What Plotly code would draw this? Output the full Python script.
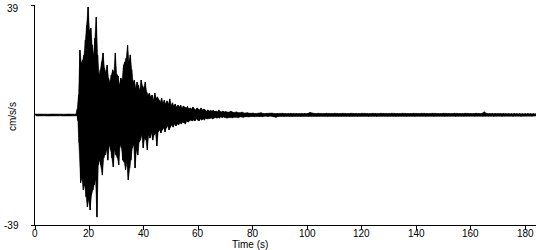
import numpy as np
import plotly.graph_objects as go

# ---- data (cm/s/s) ----
# pre-event noise, peaks every 1 s from t=0
pre_up = [0.35, 0.3, 0.35, 0.3, 0.35, 0.3, 0.35, 0.3, 0.35, 0.3, 0.35, 0.3, 0.35, 0.3, 0.35, 0.3]
pre_lo = [-0.35, -0.3, -0.35, -0.3, -0.35, -0.3, -0.35, -0.3, -0.35, -0.3, -0.35, -0.3, -0.35, -0.3, -0.35, -0.3]
pre_t0, pre_dt = 0.0, 1.0

# strong-motion part, peaks every 0.5 s from t=15.5
main_up = [2.0, 7.1, 23.0, 18.4, 19.5, 21.3, 26.6, 31.9, 38.3, 30.0,
           30.8, 24.8, 21.3, 27.3, 34.7, 21.3, 14.2, 16.0, 18.8, 22.0,
           16.7, 15.2, 17.7, 13.1, 11.7, 14.2, 16.0, 15.2, 22.0, 14.5,
           13.8, 10.6, 13.1, 12.4, 17.7, 18.8, 20.2, 24.8, 18.8, 21.3,
           16.0, 11.7, 12.4, 9.6, 11.7, 10.6, 8.9, 12.4, 10.3, 9.6,
           11.7, 8.2, 7.1, 7.8, 6.4, 7.1, 5.3, 7.8, 6.0, 6.4,
           5.3, 4.6, 6.0, 4.3, 5.3, 3.9, 5.0, 3.9, 5.7, 3.5,
           4.3, 3.2, 3.9, 2.8, 3.5, 2.8, 3.5, 2.5, 3.2, 2.8,
           2.5, 3.0, 2.1, 2.5, 2.1, 2.8, 2.1, 1.8, 2.5, 2.1,
           1.8, 2.5, 1.8, 2.1, 1.8, 1.4, 1.8, 1.4, 1.6, 1.4,
           1.6, 1.2, 1.4, 1.1, 1.8, 1.2, 1.1, 1.4, 1.1]
main_lo = [-2.0, -9.9, -24.0, -22.3, -26.6, -24.8, -29.0, -32.6, -30.0, -33.7,
           -28.4, -26.6, -24.8, -23.0, -36.2, -17.7, -16.0, -17.7, -21.3, -15.2,
           -14.2, -12.4, -16.0, -10.6, -12.4, -15.2, -18.4, -12.4, -14.2, -15.2,
           -17.7, -10.6, -11.7, -16.0, -16.7, -19.5, -17.0, -23.0, -18.8, -16.0,
           -11.7, -10.6, -18.8, -12.4, -14.2, -9.6, -8.9, -7.1, -11.7, -8.2,
           -8.9, -12.4, -7.1, -8.2, -6.4, -8.9, -7.1, -6.4, -11.0, -6.0,
           -5.3, -6.4, -5.3, -4.6, -6.0, -4.6, -3.9, -5.3, -4.3, -3.5,
           -4.3, -3.2, -3.9, -3.2, -3.5, -2.8, -3.2, -2.5, -2.8, -3.2,
           -2.1, -2.5, -2.1, -1.8, -2.1, -1.8, -2.1, -1.4, -1.8, -2.1,
           -1.4, -1.8, -1.4, -1.8, -1.1, -1.4, -1.1, -1.2, -1.1, -1.4,
           -1.1, -0.9, -1.1, -0.9, -1.1, -0.7, -0.9, -0.7, -0.9]
main_t0, main_dt = 15.5, 0.5

# coda / tail, peaks every 1 s from t=70
tail_up = [1.2, 1.0, 1.3, 0.9, 1.1, 0.8, 1.0, 0.7, 0.8, 0.6,
           0.7, 0.5, 0.6, 0.8, 0.5, 0.6, 0.5, 0.7, 0.5, 0.6,
           0.5, 0.6, 0.5, 0.5, 0.7, 0.5, 0.6, 0.5, 0.5, 0.6,
           0.5, 0.9, 0.6, 0.5, 0.6, 0.5, 0.5, 0.6, 0.5, 0.5,
           0.6, 0.5, 0.5, 0.6, 0.5, 0.5, 0.6, 0.5, 0.5, 0.5,
           0.6, 0.5, 0.5, 0.5, 0.6, 0.5, 0.5, 0.6, 0.5, 0.5,
           0.5, 0.6, 0.5, 0.5, 0.5, 0.6, 0.5, 0.5, 0.5, 0.6,
           0.5, 0.5, 0.6, 0.5, 0.5, 0.5, 0.6, 0.5, 0.5, 0.5,
           0.6, 0.5, 0.5, 0.5, 0.6, 0.5, 0.5, 0.5, 0.6, 0.5,
           0.5, 0.5, 0.6, 0.5, 0.5, 1.1, 0.5, 0.5, 0.6, 0.5,
           0.5, 0.5, 0.6, 0.5, 0.5, 0.5, 0.6, 0.5, 0.5, 0.5,
           0.5, 0.6, 0.5, 0.5, 0.4]
tail_lo = [-1.1, -0.9, -1.0, -0.8, -0.9, -0.7, -0.8, -0.6, -0.7, -0.5,
           -0.6, -0.5, -0.5, -0.6, -0.4, -0.5, -0.4, -0.5, -0.8, -0.5,
           -0.4, -0.5, -0.4, -0.4, -0.5, -0.4, -0.4, -0.5, -0.4, -0.4,
           -0.5, -0.4, -0.4, -0.5, -0.4, -0.4, -0.4, -0.5, -0.4, -0.4,
           -0.4, -0.5, -0.4, -0.4, -0.4, -0.5, -0.4, -0.4, -0.5, -0.4,
           -0.4, -0.4, -0.5, -0.4, -0.4, -0.5, -0.4, -0.4, -0.4, -0.5,
           -0.4, -0.4, -0.5, -0.4, -0.4, -0.4, -0.5, -0.4, -0.4, -0.5,
           -0.4, -0.4, -0.4, -0.5, -0.4, -0.4, -0.5, -0.4, -0.4, -0.4,
           -0.5, -0.4, -0.4, -0.4, -0.5, -0.4, -0.4, -0.5, -0.4, -0.4,
           -0.4, -0.5, -0.4, -0.4, -0.5, -0.4, -0.4, -0.4, -0.5, -0.4,
           -0.4, -0.5, -0.4, -0.4, -0.4, -0.5, -0.4, -0.4, -0.5, -0.4,
           -0.4, -0.4, -0.5, -0.4, -0.3]
tail_t0, tail_dt = 70.0, 1.0

x_ticks = [0, 20, 40, 60, 80, 100, 120, 140, 160, 180]
y_ticks = [-39, 39]
x_title = "Time (s)"
y_title = "cm/s/s"

# plot-area geometry (pixels)
W, H = 550, 250
ML, MR, MT, MB = 35, 14, 5, 25
PW, PH = W - ML - MR, H - MT - MB
BOTTOM = MT + PH  # pixel row of the x axis


def segment(up, lo, t0, dt):
    t = t0 + dt * np.arange(len(up))
    return t, t + dt / 2, np.asarray(up, float), np.asarray(lo, float)


segs = [segment(pre_up, pre_lo, pre_t0, pre_dt),
        segment(main_up, main_lo, main_t0, main_dt),
        segment(tail_up, tail_lo, tail_t0, tail_dt)]

# zig-zag trace (upper peak, lower peak, ...)
xz, yz = [], []
for tu, tl, u, l in segs:
    xs = np.empty(2 * len(u))
    ys = np.empty(2 * len(u))
    xs[0::2], xs[1::2] = tu, tl
    ys[0::2], ys[1::2] = u, l
    xz.append(xs)
    yz.append(ys)
xz = np.concatenate(xz)
yz = np.concatenate(yz)

# dense core: polygon between upper and lower peaks
tu_all = np.concatenate([s[0] for s in segs])
tl_all = np.concatenate([s[1] for s in segs])
u_all = np.concatenate([s[2] for s in segs])
l_all = np.concatenate([s[3] for s in segs])
xp = np.concatenate([tu_all, tl_all[::-1]])
yp = np.concatenate([u_all, l_all[::-1]])

fig = go.Figure()
fig.add_trace(go.Scatter(x=xp, y=yp, mode="lines", fill="toself",
                         fillcolor="black", line=dict(color="black", width=0.5),
                         hoverinfo="skip"))
fig.add_trace(go.Scatter(x=xz, y=yz, mode="lines",
                         line=dict(color="black", width=1),
                         hoverinfo="skip"))

font = dict(family="Liberation Sans, Arial, sans-serif", size=10, color="black")

fig.update_layout(
    width=W, height=H,
    margin=dict(l=ML, r=MR, t=MT, b=MB),
    paper_bgcolor="white", plot_bgcolor="white",
    showlegend=False,
    font=font,
)
fig.update_xaxes(range=[0, 184], tickvals=x_ticks, ticktext=["" for _ in x_ticks],
                 showline=True, linecolor="black", linewidth=1,
                 ticks="outside", ticklen=4, tickcolor="black",
                 showgrid=False, zeroline=False, tickfont=font)
fig.update_yaxes(range=[-39, 39], tickvals=y_ticks, ticktext=["" for _ in y_ticks],
                 showline=True, linecolor="black", linewidth=1,
                 ticks="outside", ticklen=3, tickcolor="black",
                 showgrid=False, zeroline=False, tickfont=font)

annotations = [
    dict(text=x_title, xref="paper", yref="paper",
         x=(250 - ML) / PW, y=-(244 - BOTTOM) / PH,
         xanchor="center", yanchor="middle", showarrow=False, font=font),
    dict(text=y_title, xref="paper", yref="paper",
         x=-(ML - 13) / PW, y=(BOTTOM - 117) / PH,
         xanchor="center", yanchor="middle", textangle=-90, showarrow=False, font=font),
]
for v in x_ticks:
    annotations.append(dict(text=str(v), xref="x", yref="paper",
                            x=v, y=-(233 - BOTTOM) / PH,
                            xanchor="center", yanchor="middle",
                            showarrow=False, font=font))
for v in y_ticks:
    annotations.append(dict(text=str(v), xref="paper", yref="y",
                            x=-(ML - 21) / PW, y=v, xanchor="right",
                            yanchor="top" if v > 0 else "middle",
                            yshift=4 if v > 0 else 0,
                            showarrow=False, font=font))
fig.update_layout(annotations=annotations)

fig.write_html("out.html")
